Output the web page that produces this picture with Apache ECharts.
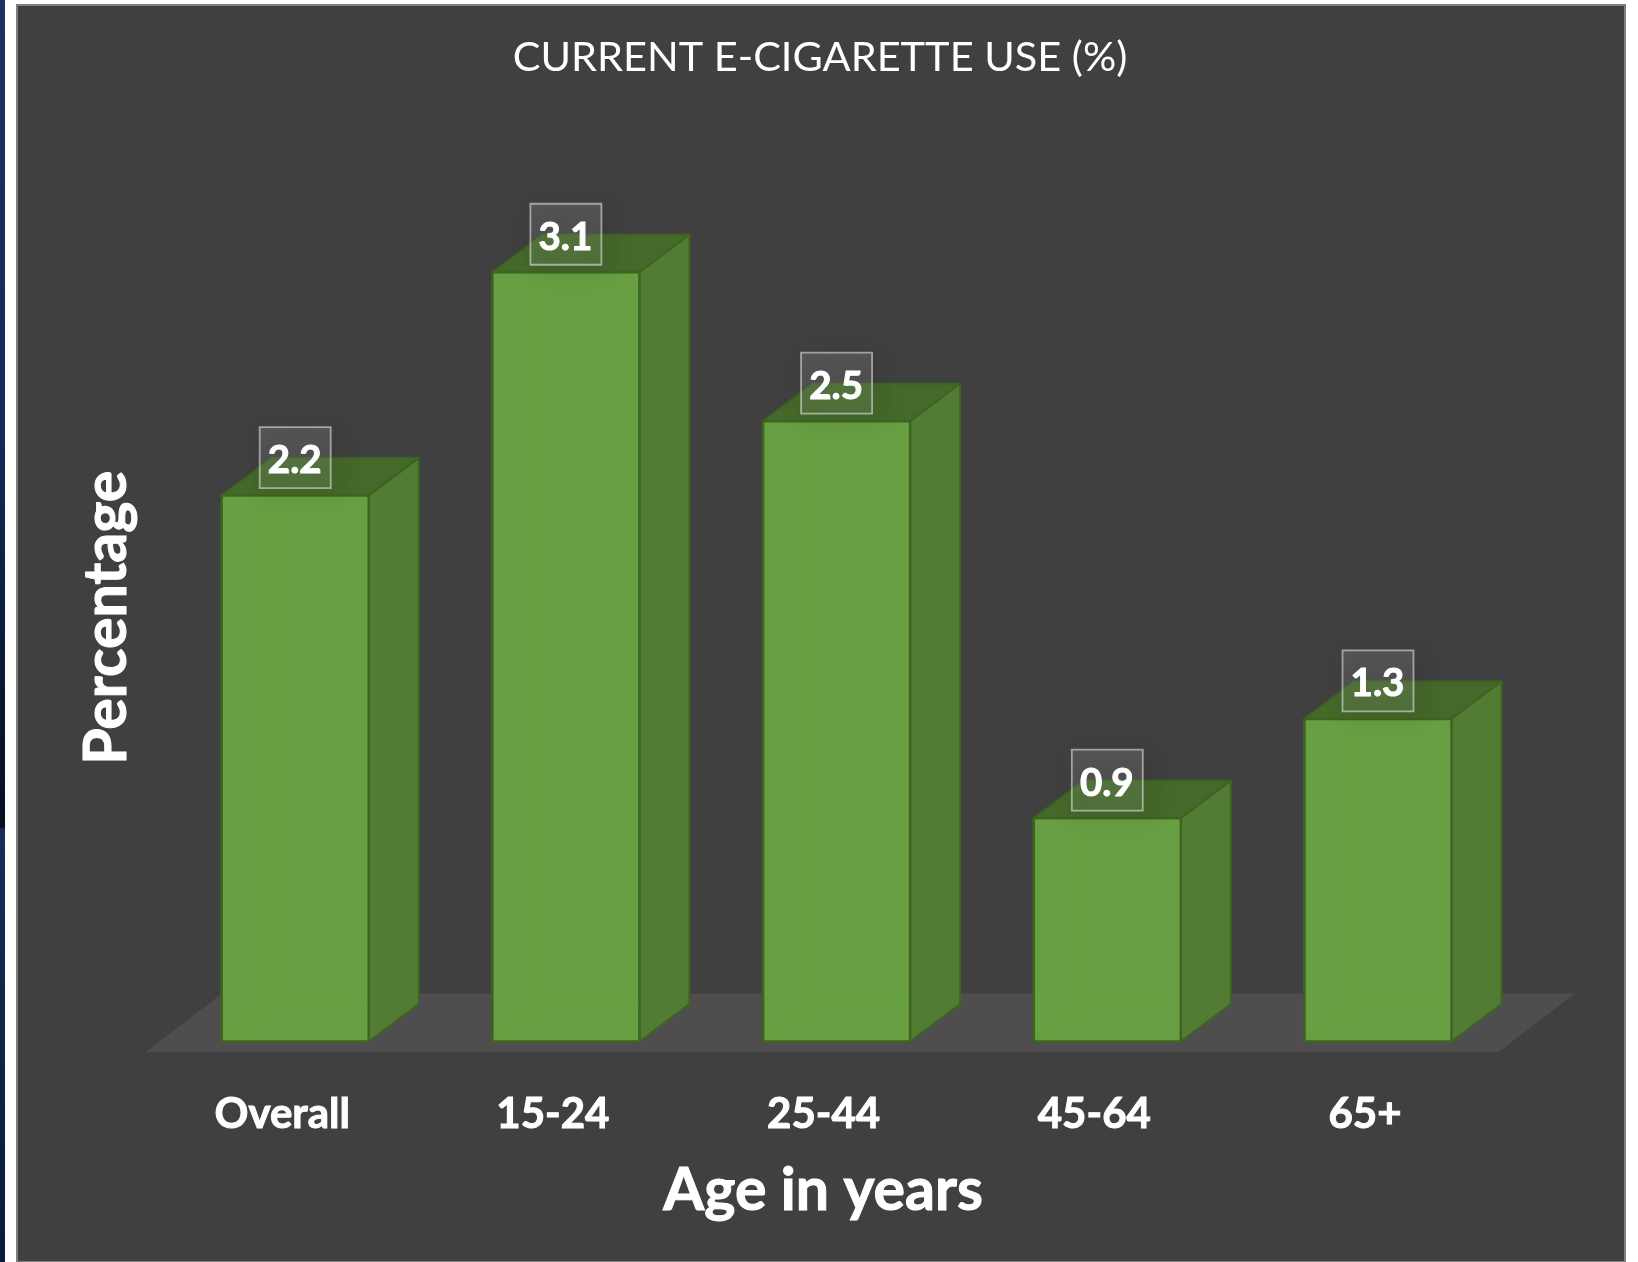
<!DOCTYPE html>
<html>
<head>
<meta charset="utf-8">
<style>html,body{margin:0;padding:0;background:#fff}#c{width:1638px;height:1262px}</style>
<script src="https://cdn.jsdelivr.net/npm/echarts@6/dist/echarts.min.js"></script>
</head>
<body>
<div id="c"></div>
<script>
const titleText = 'CURRENT E-CIGARETTE USE (%)';
const xAxisTitle = 'Age in years';
const yAxisTitle = 'Percentage';
const categories = ['Overall', '15-24', '25-44', '45-64', '65+'];
const values = [2.2, 3.1, 2.5, 0.9, 1.3];

const FONT = 'Lato';
const DEPTH_X = 51, DEPTH_Y = 37.5, BAR_W = 147;
const C = {front:'#689f42', side:'#527b33', top:'#45682b', edge:'#3c6522', inner:'#64a03e', floor:'#4f4d4e'};

function poly(points, fill, stroke, lw) {
  return {type:'polygon', shape:{points}, style:{fill, stroke: stroke || null, lineWidth: lw || 0, lineJoin:'round'}};
}
function line(x1,y1,x2,y2,stroke,lw){
  return {type:'line', shape:{x1,y1,x2,y2}, style:{stroke, lineWidth:lw, fill:null}};
}
function renderFloor(params, api) {
  const cs = params.coordSys;
  const y0 = api.coord([0, 0])[1];
  const yf = y0 + 10.5, yb = y0 - 48;
  const xl = cs.x - 13.5, xr = cs.x + cs.width - 14;
  return poly([[xl, yf],[xl + 76, yb],[xr + 76, yb],[xr, yf]], C.floor);
}
function renderBar(params, api) {
  const p = api.coord([api.value(0), api.value(1)]);
  const b = api.coord([api.value(0), 0]);
  const l = p[0] - 73, r = l + BAR_W, t = p[1], bt = b[1];
  const dx = DEPTH_X - 1, dy = DEPTH_Y;
  return {type:'group', children:[
    poly([[l,t],[r,t],[r+dx,t-dy],[l+dx,t-dy]], C.top, C.edge, 2),
    poly([[r,t],[r+dx,t-dy],[r+dx,bt-dy],[r,bt]], C.side, C.edge, 2),
    {type:'rect', shape:{x:l,y:t,width:BAR_W,height:bt-t}, style:{fill:C.front, stroke:C.edge, lineWidth:2.5}},
    line(l+dx,t+2,l+dx,bt-dy,C.inner,1.5),
    line(l+dx,bt-dy,r-1,bt-dy,C.inner,1.5),
    line(l+2,bt-2,l+dx,bt-dy,C.inner,1.5),
    {type:'rect', z2:5, shape:{x:p[0]-35,y:t-68.5,width:71,height:61},
      style:{fill:new echarts.graphic.LinearGradient(0,0,0,1,[{offset:0,color:'rgba(255,255,255,0.12)'},{offset:1,color:'rgba(255,255,255,0.07)'}]),
             stroke:'rgba(225,225,225,0.6)', lineWidth:1.8,
             shadowBlur:24, shadowColor:'rgba(0,0,0,0.5)', shadowOffsetX:6, shadowOffsetY:6}},
    {type:'text', z2:6, style:{x:p[0], y:t-35, text:api.value(1).toFixed(1), fill:'#fff',
      stroke:'#fff', lineWidth:1, font:'bold 38.5px '+FONT, align:'center', verticalAlign:'middle'}}
  ]};
}

const chart = echarts.init(document.getElementById('c'), null, {renderer:'canvas'});
chart.setOption({
  animation:false,
  backgroundColor:'#ffffff',
  graphic:[
    {type:'rect', z:-10, shape:{x:0,y:0,width:5,height:1262}, style:{fill:new echarts.graphic.LinearGradient(0,0,0,1,[{offset:0,color:'#1b3363'},{offset:0.35,color:'#142a57'},{offset:0.655,color:'#060e20'},{offset:0.657,color:'#1a2c58'},{offset:1,color:'#0b1a38'}])}},
    {type:'rect', z:-10, shape:{x:17,y:5,width:1608,height:1257}, style:{fill:'#404040', stroke:'#7f7f7f', lineWidth:2}}
  ],
  title:{text:titleText, left:815, top:32, textAlign:'center',
    textStyle:{color:'#fff', fontFamily:FONT, fontSize:41.5, fontWeight:'normal'}},
  grid:{left:159.35, width:1353.5, top:173, height:868.5},
  xAxis:{type:'category', data:categories,
    name:xAxisTitle, nameLocation:'middle', nameGap:120,
    nameTextStyle:{color:'#fff', fontFamily:FONT, fontSize:59, fontWeight:'bold', padding:[0,26,0,0],
      textBorderColor:'#fff', textBorderWidth:1},
    axisLine:{show:false}, axisTick:{show:false},
    axisLabel:{color:'#fff', fontFamily:FONT, fontSize:42, fontWeight:'bold', margin:52, padding:[0,25,0,0],
      textBorderColor:'#fff', textBorderWidth:1}},
  yAxis:{type:'value', min:0, max:3.5, interval:0.5,
    name:yAxisTitle, nameLocation:'middle', nameGap:23,
    nameTextStyle:{color:'#fff', fontFamily:FONT, fontSize:59, fontWeight:'bold', padding:[0,21,0,0],
      textBorderColor:'#fff', textBorderWidth:1},
    axisLine:{show:false}, axisTick:{show:false}, axisLabel:{show:false}, splitLine:{show:false}},
  series:[
    {type:'custom', name:'floor', silent:true, z:1, data:[[0,0]], renderItem:renderFloor, clip:false},
    {type:'custom', name:'Current e-cigarette use', z:2, clip:false, renderItem:renderBar,
     encode:{x:0,y:1}, data:values.map((v,i)=>[i,v])}
  ]
});
</script>
</body>
</html>
